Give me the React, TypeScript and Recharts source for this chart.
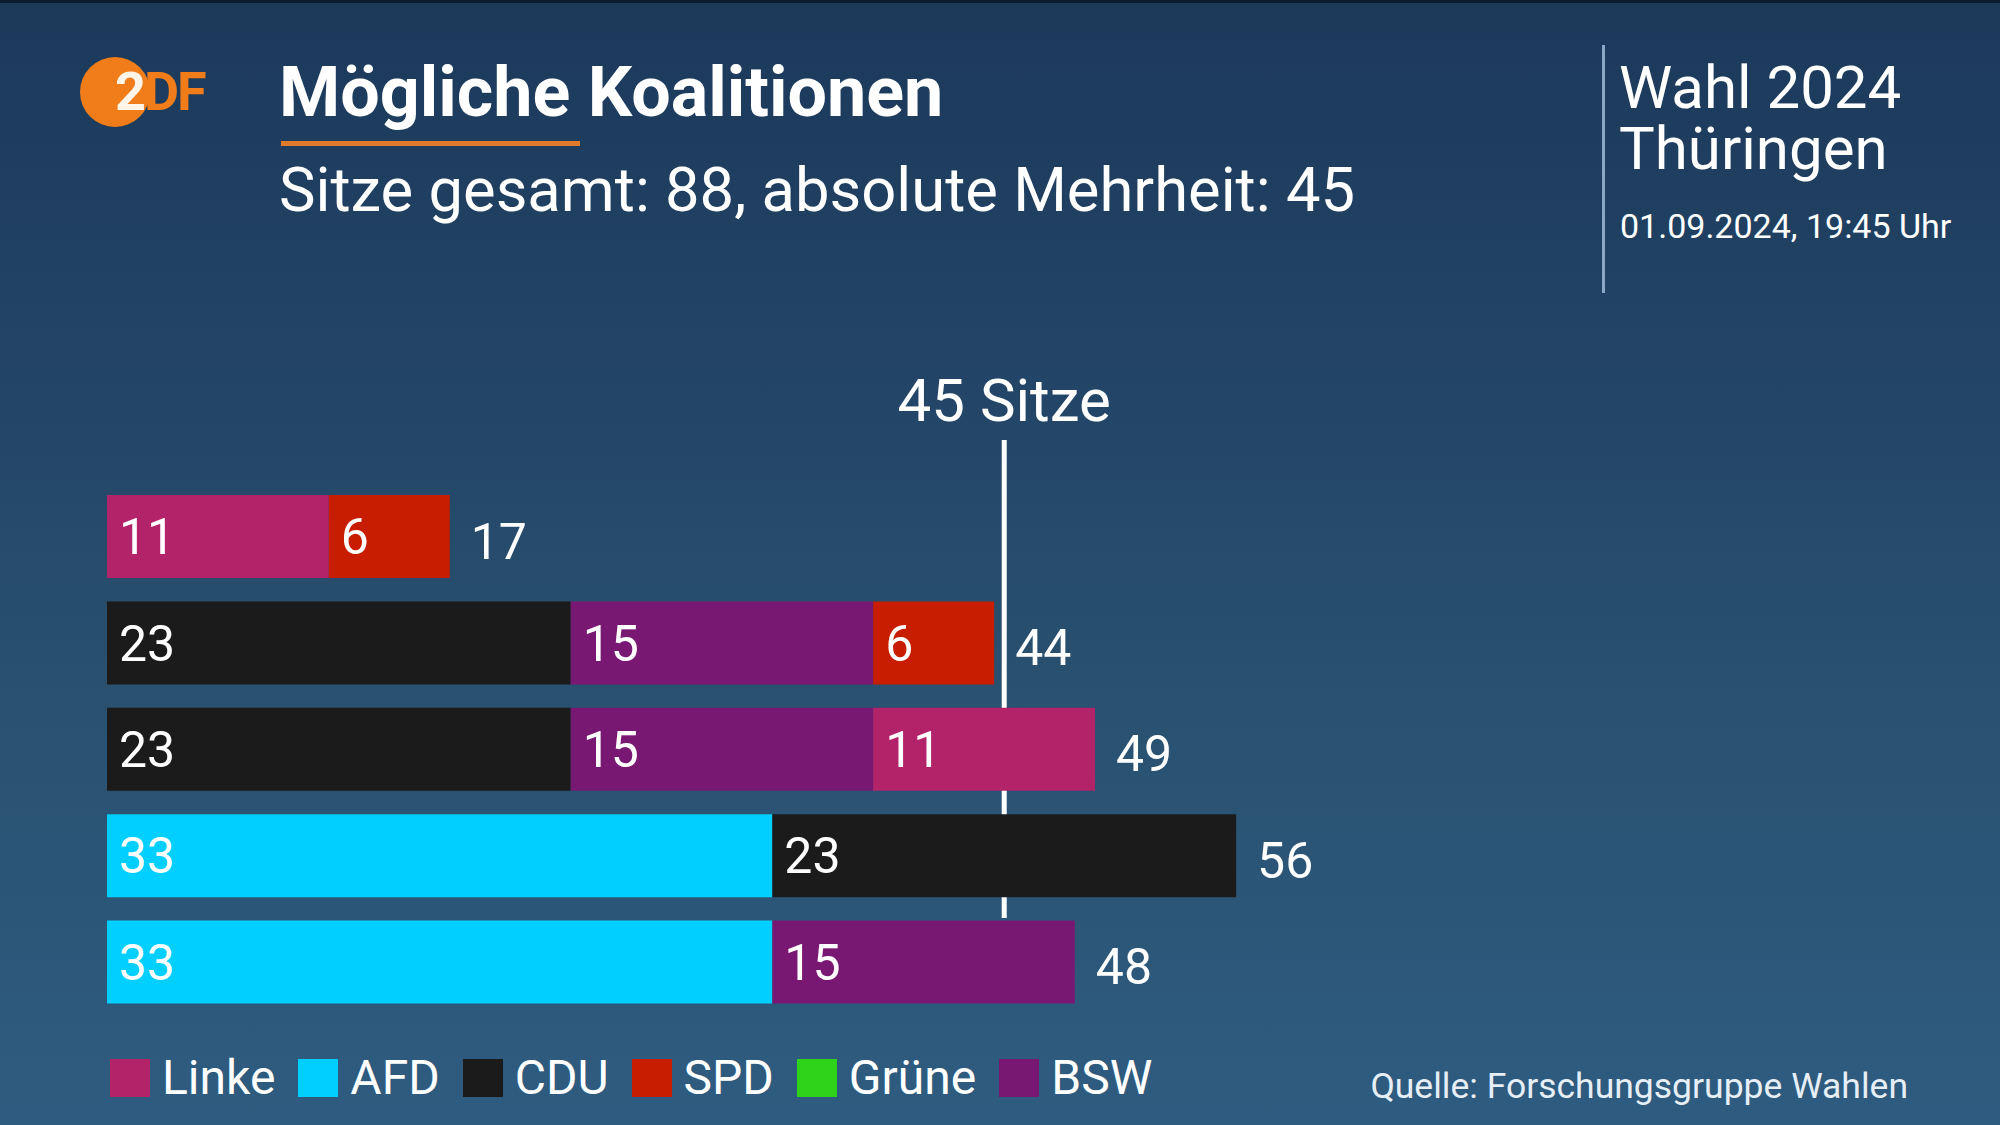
import { Bar, BarChart, Cell, LabelList, ReferenceLine, XAxis, YAxis } from 'recharts';

const coalitions = ['Linke + SPD', 'CDU + BSW + SPD', 'CDU + BSW + Linke', 'AFD + CDU', 'AFD + BSW'];
const firstParty = ['Linke', 'CDU', 'CDU', 'AFD', 'AFD'];
const firstSeats = [11, 23, 23, 33, 33];
const secondParty = ['SPD', 'BSW', 'BSW', 'CDU', 'BSW'];
const secondSeats = [6, 15, 15, 23, 15];
const thirdParty = ['', 'SPD', 'Linke', '', ''];
const thirdSeats = [0, 6, 11, 0, 0];
const totalSeats = [17, 44, 49, 56, 48];

const legendParties = ['Linke', 'AFD', 'CDU', 'SPD', 'Grüne', 'BSW'];

const MAJORITY = 44.5;

const PARTY_COLORS: Record<string, string> = {
    Linke: '#b32369',
    AFD: '#00cfff',
    CDU: '#1b1b1b',
    SPD: '#c81d00',
    Grüne: '#2fd319',
    BSW: '#791873',
    '': 'transparent',
};

const FONT = 'Roboto, "Liberation Sans", sans-serif';

const data = coalitions.map((name, i) => ({
    name,
    first: firstSeats[i],
    second: secondSeats[i],
    third: thirdSeats[i],
    total: totalSeats[i],
}));

const hideZero = (v: any) => (v ? v : '');

function MajorityLine(props: any) {
    const { x1, y1, y2 } = props;
    const top = Math.min(y1, y2) - 43;
    const bottom = Math.max(y1, y2) - 97;
    return (
        <g>
            <line x1={x1} x2={x1} y1={top} y2={bottom} stroke="#ffffff" strokeWidth={5} />
            <text x={x1} y={top - 19} textAnchor="middle" fill="#ffffff" fontSize={60} fontFamily={FONT}>
                45 Sitze
            </text>
        </g>
    );
}

// total sits right of the whole stack: first segment width gives px per seat
function TotalLabel(props: any) {
    const { x, y, width, height, index } = props;
    const i = index ?? 0;
    const perSeat = width / firstSeats[i];
    const end = x + perSeat * totalSeats[i];
    return (
        <text
            x={end + 21}
            y={y + height / 2 + 5}
            dominantBaseline="central"
            fill="#ffffff"
            fontSize={50}
            fontFamily={FONT}
        >
            {totalSeats[i]}
        </text>
    );
}

export default function App() {
    const segLabel = {
        position: 'insideLeft' as const,
        offset: 12,
        fill: '#ffffff',
        fontSize: 50,
        fontFamily: FONT,
        formatter: hideZero,
    };

    return (
        <div
            style={{
                position: 'absolute',
                left: 0,
                top: 0,
                width: 2000,
                height: 1125,
                overflow: 'hidden',
                background: 'linear-gradient(180deg, #1c395a 0%, #234567 35%, #29506f 60%, #2e5c80 100%)',
                fontFamily: FONT,
                color: '#ffffff',
            }}
        >
            <div style={{ position: 'absolute', left: 0, top: 0, width: 2000, height: 3, background: '#0e1a2e' }} />

            {/* logo */}
            <div style={{ position: 'absolute', left: 80, top: 57, width: 70, height: 70, borderRadius: '50%', background: '#f07d19' }} />
            <div style={{ position: 'absolute', left: 115, top: 62, fontSize: 54, fontWeight: 700, lineHeight: '60px', letterSpacing: -2 }}>
                <span style={{ color: '#fff4e8' }}>2</span>
                <span style={{ color: '#f07d19' }}>DF</span>
            </div>

            <div style={{ position: 'absolute', left: 279, top: 52, fontSize: 70, fontWeight: 700, lineHeight: '80px' }}>
                Mögliche Koalitionen
            </div>
            <div style={{ position: 'absolute', left: 281, top: 141, width: 299, height: 5, background: '#e07b2c' }} />
            <div style={{ position: 'absolute', left: 279, top: 154, fontSize: 61.5, lineHeight: '72px' }}>
                Sitze gesamt: 88, absolute Mehrheit: 45
            </div>

            <div style={{ position: 'absolute', left: 1602, top: 45, width: 3, height: 248, background: '#8aa8c6' }} />
            <div style={{ position: 'absolute', left: 1619, top: 57, fontSize: 60, lineHeight: '61px', height: 61 }}>
                Wahl 2024
            </div>
            <div style={{ position: 'absolute', left: 1619, top: 118, fontSize: 60, lineHeight: '61px', height: 61 }}>
                Thüringen
            </div>
            <div style={{ position: 'absolute', left: 1620, top: 206, fontSize: 34, lineHeight: '40px' }}>
                01.09.2024, 19:45 Uhr
            </div>

            <div style={{ position: 'absolute', left: 0, top: 0 }}>
                <BarChart
                    width={2000}
                    height={1125}
                    data={data}
                    layout="vertical"
                    margin={{ top: 483, right: 280, bottom: 110, left: 107 }}
                >
                    <XAxis type="number" domain={[0, 80]} hide />
                    <YAxis type="category" dataKey="name" hide />
                    <ReferenceLine x={MAJORITY} ifOverflow="visible" zIndex={0} shape={MajorityLine} />
                    <Bar dataKey="first" stackId="s" barSize={83} isAnimationActive={false}>
                        {firstParty.map((p, i) => (
                            <Cell key={i} fill={PARTY_COLORS[p]} />
                        ))}
                        <LabelList dataKey="first" {...segLabel} />
                        <LabelList dataKey="total" content={TotalLabel} />
                    </Bar>
                    <Bar dataKey="second" stackId="s" barSize={83} isAnimationActive={false}>
                        {secondParty.map((p, i) => (
                            <Cell key={i} fill={PARTY_COLORS[p]} />
                        ))}
                        <LabelList dataKey="second" {...segLabel} />
                    </Bar>
                    <Bar dataKey="third" stackId="s" barSize={83} isAnimationActive={false}>
                        {thirdParty.map((p, i) => (
                            <Cell key={i} fill={PARTY_COLORS[p]} />
                        ))}
                        <LabelList dataKey="third" {...segLabel} />
                    </Bar>
                </BarChart>
            </div>

            {/* legend */}
            <div style={{ position: 'absolute', left: 110, top: 1053, display: 'flex', alignItems: 'center' }}>
                {legendParties.map((p) => (
                    <div key={p} style={{ display: 'flex', alignItems: 'center', marginRight: 23 }}>
                        <span style={{ width: 40, height: 38, background: PARTY_COLORS[p], display: 'inline-block' }} />
                        <span style={{ fontSize: 48, lineHeight: '50px', marginLeft: 12 }}>{p}</span>
                    </div>
                ))}
            </div>

            <div style={{ position: 'absolute', right: 92, top: 1066, fontSize: 35.5, lineHeight: '40px', color: '#e6eef6' }}>
                Quelle: Forschungsgruppe Wahlen
            </div>
        </div>
    );
}
